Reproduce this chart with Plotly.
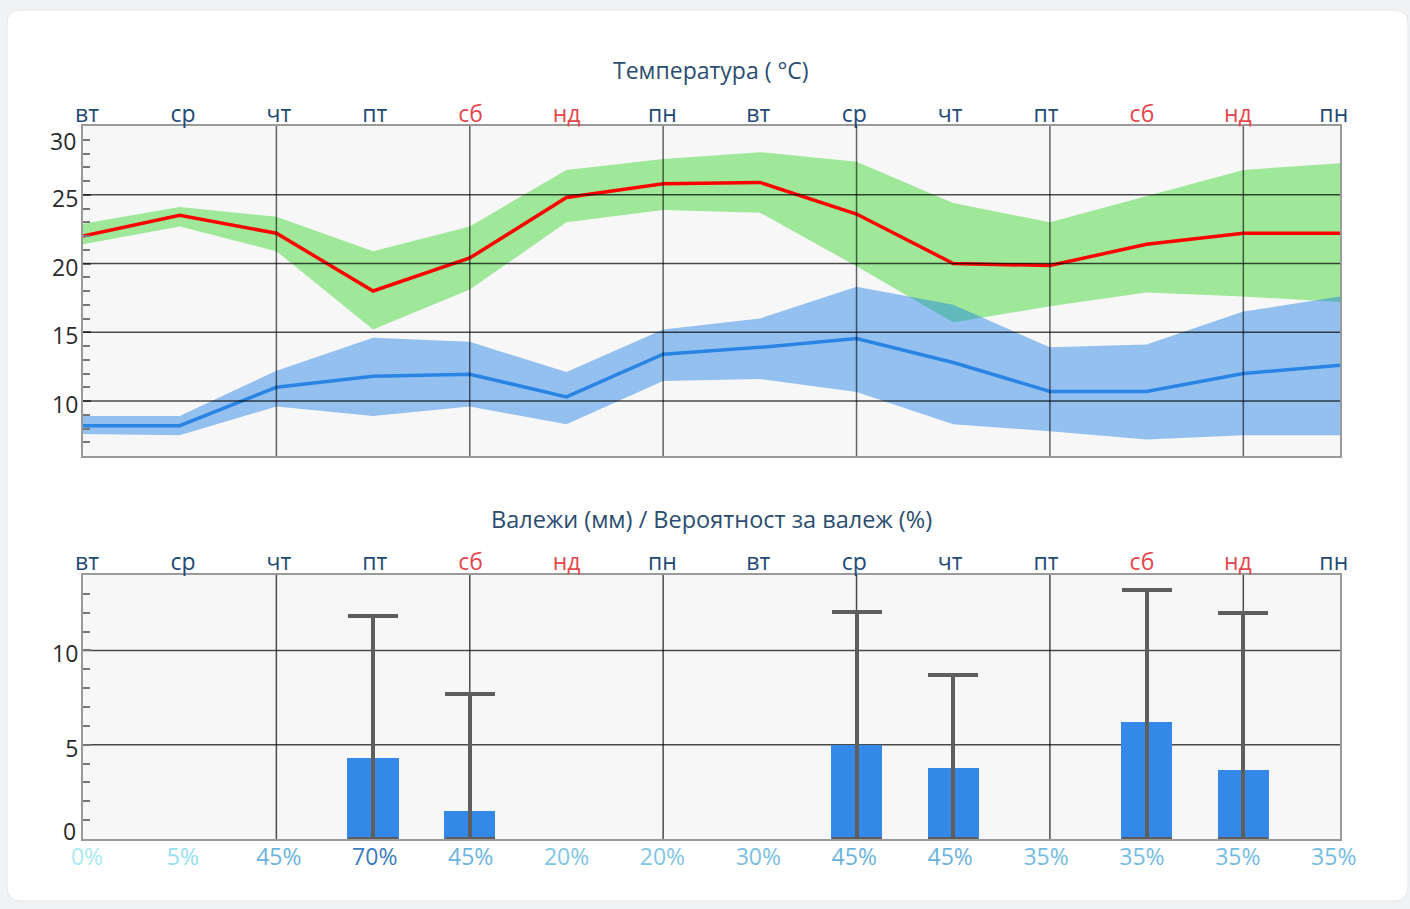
import plotly.graph_objects as go

# ---------------- data ----------------
days = ["вт", "ср", "чт", "пт", "сб", "нд", "пн", "вт", "ср", "чт", "пт", "сб", "нд", "пн"]
weekend_days = ["сб", "нд"]

# max temperature (red line) and its range (green band)
tmax = [22.0, 23.5, 22.2, 18.0, 20.4, 24.8, 25.8, 25.9, 23.6, 20.0, 19.85, 21.4, 22.2, 22.2]
tmax_hi = [22.9, 24.1, 23.4, 20.9, 22.7, 26.8, 27.6, 28.1, 27.4, 24.4, 23.0, 24.9, 26.8, 27.3]
tmax_lo = [21.4, 22.7, 20.9, 15.2, 18.1, 23.0, 23.9, 23.7, 19.8, 15.7, 16.9, 17.9, 17.6, 17.2]

# min temperature (blue line) and its range (blue band)
tmin = [8.2, 8.2, 11.0, 11.8, 11.95, 10.3, 13.4, 13.9, 14.55, 12.8, 10.7, 10.7, 12.0, 12.6]
tmin_hi = [8.9, 8.9, 12.2, 14.6, 14.3, 12.1, 15.2, 16.0, 18.3, 17.0, 13.9, 14.1, 16.5, 17.6]
tmin_lo = [7.6, 7.5, 9.6, 8.9, 9.6, 8.3, 11.45, 11.6, 10.65, 8.3, 7.8, 7.2, 7.5, 7.5]

# precipitation (mm) and maximum possible precipitation (mm)
precip = [None, None, None, 4.3, 1.5, None, None, None, 5.0, 3.75, None, 6.2, 3.65, None]
precip_max = [None, None, None, 11.8, 7.7, None, None, None, 12.05, 8.7, None, 13.2, 12.0, None]

# probability of precipitation (%)
prob = [0, 5, 45, 70, 45, 20, 20, 30, 45, 45, 35, 35, 35, 35]

temp_ticks = [10, 15, 20, 25, 30]
temp_top_label = "30"
rain_ticks = [0, 5, 10]
rain_bottom_label = "0"
grid_days = [2, 4, 6, 8, 10, 12]

# ---------------- styles ----------------
prob_colors = {0: "#a9e9f3", 5: "#95dff0", 20: "#80c6e6", 30: "#79c0e3",
               35: "#74bce2", 45: "#6bb3dd", 70: "#3c7bc2"}
WEEKDAY_COL = "#1f4a77"
WEEKEND_COL = "#e2474d"
TITLE_COL = "#2b4d70"
YLAB_COL = "#2a2a2a"
FONT = "Open Sans, Noto Sans, sans-serif"

W, H = 1410, 909


def px_x(p):
    return p / W


def px_y(p):
    return 1 - p / H


X_DOM = [px_x(83), px_x(1340)]
TOP_DOM = [px_y(456), px_y(126)]
BOT_DOM = [px_y(839), px_y(575)]
DATA_RANGE = [0, 13]
LABEL_RANGE = [-0.042, 13.065]   # labels sit slightly inside the data positions

idx = list(range(len(days)))

day_text = [
    f'<span style="color:{WEEKEND_COL}">{d}</span>' if d in weekend_days
    else f'<span style="color:{WEEKDAY_COL}">{d}</span>'
    for d in days
]
prob_text = [f'<span style="color:{prob_colors[p]}">{p}%</span>' for p in prob]

fig = go.Figure()

# bands
fig.add_trace(go.Scatter(x=idx, y=tmax_lo, mode="lines", line=dict(width=0),
                         hoverinfo="skip", showlegend=False, xaxis="x", yaxis="y"))
fig.add_trace(go.Scatter(x=idx, y=tmax_hi, mode="lines", line=dict(width=0),
                         fill="tonexty", fillcolor="rgba(100,222,92,0.6)",
                         hoverinfo="skip", showlegend=False, xaxis="x", yaxis="y"))
fig.add_trace(go.Scatter(x=idx, y=tmin_lo, mode="lines", line=dict(width=0),
                         hoverinfo="skip", showlegend=False, xaxis="x", yaxis="y"))
fig.add_trace(go.Scatter(x=idx, y=tmin_hi, mode="lines", line=dict(width=0),
                         fill="tonexty", fillcolor="rgba(22,122,231,0.44)",
                         hoverinfo="skip", showlegend=False, xaxis="x", yaxis="y"))
# lines
fig.add_trace(go.Scatter(x=idx, y=tmax, mode="lines", line=dict(color="#ff0000", width=3.5),
                         showlegend=False, xaxis="x", yaxis="y"))
fig.add_trace(go.Scatter(x=idx, y=tmin, mode="lines", line=dict(color="#2a84e4", width=3.5),
                         showlegend=False, xaxis="x", yaxis="y"))

# precipitation bars with max whiskers
err_plus = [None if (m is None or v is None) else m - v for v, m in zip(precip, precip_max)]
err_minus = [None if v is None else v for v in precip]
fig.add_trace(go.Bar(x=idx, y=precip, width=0.53, marker=dict(color="#3388e8", line=dict(width=0)),
                     error_y=dict(type="data", symmetric=False, array=err_plus, arrayminus=err_minus,
                                  color="#5e5e5e", thickness=4, width=25),
                     showlegend=False, xaxis="x2", yaxis="y2"))
# helper traces so the label axes exist
for xa, ya in (("x3", "y2"), ("x4", "y2"), ("x5", "y")):
    fig.add_trace(go.Scatter(x=idx, y=[None] * len(idx), mode="lines", showlegend=False,
                             hoverinfo="skip", xaxis=xa, yaxis=ya))

# ---------------- shapes ----------------
shapes = []
# white card with rounded corners
cx0, cy0, cx1, cy1, r = 7, 10, 1408, 901, 14
pts = [
    ("M", [(cx0 + r, cy0)]), ("L", [(cx1 - r, cy0)]), ("Q", [(cx1, cy0), (cx1, cy0 + r)]),
    ("L", [(cx1, cy1 - r)]), ("Q", [(cx1, cy1), (cx1 - r, cy1)]),
    ("L", [(cx0 + r, cy1)]), ("Q", [(cx0, cy1), (cx0, cy1 - r)]),
    ("L", [(cx0, cy0 + r)]), ("Q", [(cx0, cy0), (cx0 + r, cy0)]),
]
path = " ".join(cmd + " " + " ".join(f"{px_x(a):.5f},{px_y(b):.5f}" for a, b in p) for cmd, p in pts) + " Z"
shapes.append(dict(type="path", path=path, xref="paper", yref="paper", fillcolor="#ffffff",
                   line=dict(color="#e4e7ea", width=1), layer="below"))

# plot backgrounds
for xr, yr in (("x", "y"), ("x2", "y2")):
    shapes.append(dict(type="rect", xref=f"{xr} domain", yref=f"{yr} domain", x0=0, x1=1, y0=0, y1=1,
                       fillcolor="#f7f7f7", line=dict(width=0), layer="below"))

# top chart grid (drawn above the bands)
for gx in grid_days:
    shapes.append(dict(type="line", xref="x", yref="y domain", x0=gx, x1=gx, y0=0, y1=1,
                       line=dict(color="rgba(0,0,0,0.6)", width=1.5), layer="above"))
for gy in temp_ticks[:-1]:
    shapes.append(dict(type="line", xref="x domain", yref="y", x0=0, x1=1, y0=gy, y1=gy,
                       line=dict(color="rgba(0,0,0,0.7)", width=1.5), layer="above"))
# bottom chart grid (below bars)
for gx in grid_days:
    shapes.append(dict(type="line", xref="x2", yref="y2 domain", x0=gx, x1=gx, y0=0, y1=1,
                       line=dict(color="rgba(0,0,0,0.7)", width=1.5), layer="below"))
for gy in rain_ticks[1:]:
    shapes.append(dict(type="line", xref="x2 domain", yref="y2", x0=0, x1=1, y0=gy, y1=gy,
                       line=dict(color="rgba(0,0,0,0.7)", width=1.5), layer="below"))

axis_common = dict(showline=True, mirror=True, linecolor="#9a9a9a", linewidth=2,
                   showgrid=False, zeroline=False, fixedrange=True, automargin=False)
label_axis = dict(showline=False, showgrid=False, zeroline=False, fixedrange=True, automargin=False,
                  tickmode="array", tickvals=idx, ticks="", range=LABEL_RANGE)
tickfont_days = dict(family=FONT, size=23, color=WEEKDAY_COL)
tickfont_y = dict(family=FONT, size=23, color=YLAB_COL)
minor_y = dict(dtick=1, tick0=0, ticks="inside", ticklen=7, tickcolor="#777777", tickwidth=1.5,
               showgrid=False)

temp_text = [str(v) if str(v) != temp_top_label else "" for v in temp_ticks]
rain_text = [str(v) if str(v) != rain_bottom_label else "" for v in rain_ticks]

fig.update_layout(
    template="none",
    width=W, height=H, autosize=False,
    margin=dict(l=0, r=0, t=0, b=0, pad=0),
    paper_bgcolor="#f0f2f3",
    plot_bgcolor="rgba(0,0,0,0)",
    hovermode=False,
    bargap=0,
    font=dict(family=FONT),
    # data axes
    xaxis=dict(domain=X_DOM, anchor="y", range=DATA_RANGE, showticklabels=False, ticks="",
               **axis_common),
    yaxis=dict(domain=TOP_DOM, anchor="x", range=[6, 30], tickmode="array", tickvals=temp_ticks,
               ticktext=temp_text, ticks="inside", ticklen=8, tickcolor="#777777", tickwidth=1.5,
               minor=minor_y, tickfont=tickfont_y, ticklabelshift=4, ticklabelstandoff=-2,
               **axis_common),
    xaxis2=dict(domain=X_DOM, anchor="y2", range=DATA_RANGE, showticklabels=False, ticks="",
                **axis_common),
    yaxis2=dict(domain=BOT_DOM, anchor="x2", range=[0, 14], tickmode="array", tickvals=rain_ticks,
                ticktext=rain_text, ticks="inside", ticklen=8, tickcolor="#777777", tickwidth=1.5,
                minor=minor_y, tickfont=tickfont_y, ticklabelshift=4, ticklabelstandoff=-2,
                **axis_common),
    # label axes
    xaxis5=dict(overlaying="x", anchor="y", side="top", ticktext=day_text, tickfont=tickfont_days,
                ticklabelstandoff=-2, **label_axis),
    xaxis3=dict(overlaying="x2", anchor="y2", side="top", ticktext=day_text, tickfont=tickfont_days,
                ticklabelstandoff=-1, **label_axis),
    xaxis4=dict(overlaying="x2", anchor="y2", side="bottom", ticktext=prob_text,
                tickfont=dict(family=FONT, size=23), ticklabelstandoff=2, **label_axis),
    shapes=shapes,
    annotations=[
        dict(text="Температура ( °C)", xref="paper", yref="paper", x=px_x(711), y=px_y(70),
             xanchor="center", yanchor="middle", showarrow=False,
             font=dict(family=FONT, size=23, color=TITLE_COL)),
        dict(text="Валежи (мм) / Вероятност за валеж (%)", xref="paper", yref="paper",
             x=px_x(711), y=px_y(519), xanchor="center", yanchor="middle", showarrow=False,
             font=dict(family=FONT, size=23.5, color=TITLE_COL)),
        # end labels of the value axes, nudged inside the plot height as in the original
        dict(text=temp_top_label, xref="paper", yref="y", x=px_x(78), y=30, yshift=-15,
             xanchor="right", yanchor="middle", showarrow=False,
             font=dict(family=FONT, size=23, color=YLAB_COL)),
        dict(text=rain_bottom_label, xref="paper", yref="y2", x=px_x(78), y=0, yshift=8,
             xanchor="right", yanchor="middle", showarrow=False,
             font=dict(family=FONT, size=23, color=YLAB_COL)),
    ],
)

fig.write_html("out.html", config={"displayModeBar": False},
               post_script="document.body.style.margin='0';document.body.style.overflow='hidden';")
